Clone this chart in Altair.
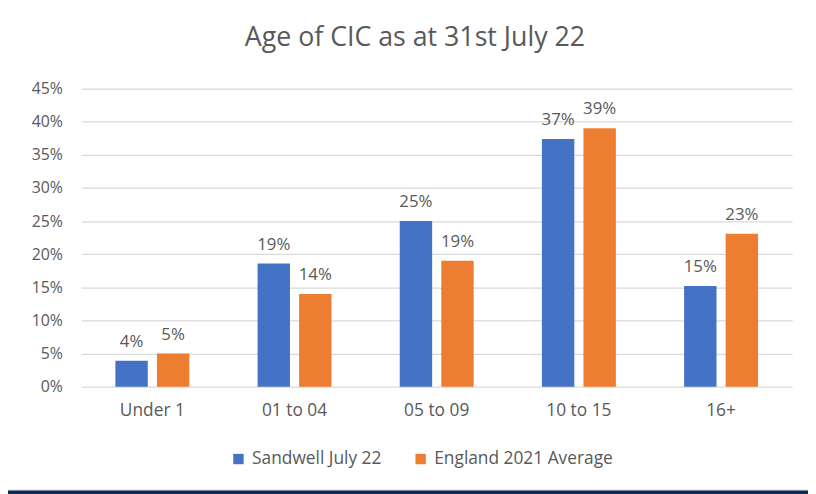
import altair as alt
import pandas as pd

categories = ["Under 1", "01 to 04", "05 to 09", "10 to 15", "16+"]
series_names = ["Sandwell July 22", "England 2021 Average"]
sandwell = [0.039, 0.186, 0.250, 0.374, 0.152]
england = [0.050, 0.140, 0.190, 0.390, 0.231]
y_ticks = [0.0, 0.05, 0.10, 0.15, 0.20, 0.25, 0.30, 0.35, 0.40, 0.45]
colors = ["#4472C4", "#ED7D31"]
title_text = "Age of CIC as at 31st July 22"

rows = []
for c, a, b in zip(categories, sandwell, england):
    rows.append({"cat": c, "series": series_names[0], "value": a})
    rows.append({"cat": c, "series": series_names[1], "value": b})
df = pd.DataFrame(rows)

FONT = "Open Sans"
TXT = "#595959"
PW, PH = 718, 301

x_enc = alt.X("cat:N", sort=categories, title=None,
              scale=alt.Scale(paddingInner=0.48, paddingOuter=0.24),
              axis=alt.Axis(labelAngle=0, domain=False, ticks=False, labelPadding=15,
                            labelFontSize=17.5, labelColor=TXT, labelFont=FONT))
xo_enc = alt.XOffset("series:N", sort=series_names,
                     scale=alt.Scale(paddingInner=0.22, paddingOuter=0))
y_enc = alt.Y("value:Q", title=None,
              scale=alt.Scale(domain=[0, 0.45], nice=False, zero=True),
              axis=alt.Axis(values=y_ticks, format=".0%", domain=False, ticks=False,
                            labelOverlap=False, labelFlush=False,
                            labelPadding=19, labelFontSize=16, labelColor=TXT, labelFont=FONT,
                            gridColor="#D9D9D9", gridWidth=1.3))

base = alt.Chart(df)

bars = base.mark_bar().encode(
    x=x_enc, xOffset=xo_enc, y=y_enc,
    color=alt.Color("series:N", sort=series_names, title=None,
                    scale=alt.Scale(domain=series_names, range=colors),
                    legend=alt.Legend(orient="none", legendX=150, legendY=365,
                                      direction="horizontal", columns=2, symbolType="square",
                                      symbolSize=110, symbolStrokeWidth=0, labelFontSize=17.5,
                                      labelColor=TXT, labelFont=FONT, labelOffset=5,
                                      columnPadding=30, labelLimit=300)),
)

labels = base.mark_text(baseline="alphabetic", dy=-14, fontSize=17, color=TXT, font=FONT).encode(
    x=x_enc, xOffset=xo_enc, y=y_enc,
    text=alt.Text("value:Q", format=".0%"),
)

frame_data = alt.Data(values=[{"k": 1}])
gray_line = alt.Chart(frame_data).mark_rect(color="#D9D9D9").encode(
    x=alt.value(-74), x2=alt.value(PW + 16), y=alt.value(405), y2=alt.value(406))
navy = alt.Chart(frame_data).mark_rect(color="#0B2A56").encode(
    x=alt.value(-74), x2=alt.value(PW + 16), y=alt.value(406), y2=alt.value(412))

chart = alt.layer(bars, labels, gray_line, navy).properties(
    width=PW, height=PH,
    title=alt.TitleParams(title_text, fontSize=27, font=FONT, color=TXT, fontWeight="normal",
                          anchor="middle", frame="group", dx=-22, offset=8,
                          baseline="alphabetic"),
    autosize=alt.AutoSizeParams(type="none"),
    padding={"left": 74, "top": 79, "right": 16, "bottom": 106},
).configure(background="white").configure_view(stroke=None)

chart.save("out.html", embed_options={"renderer": "svg", "actions": False})
